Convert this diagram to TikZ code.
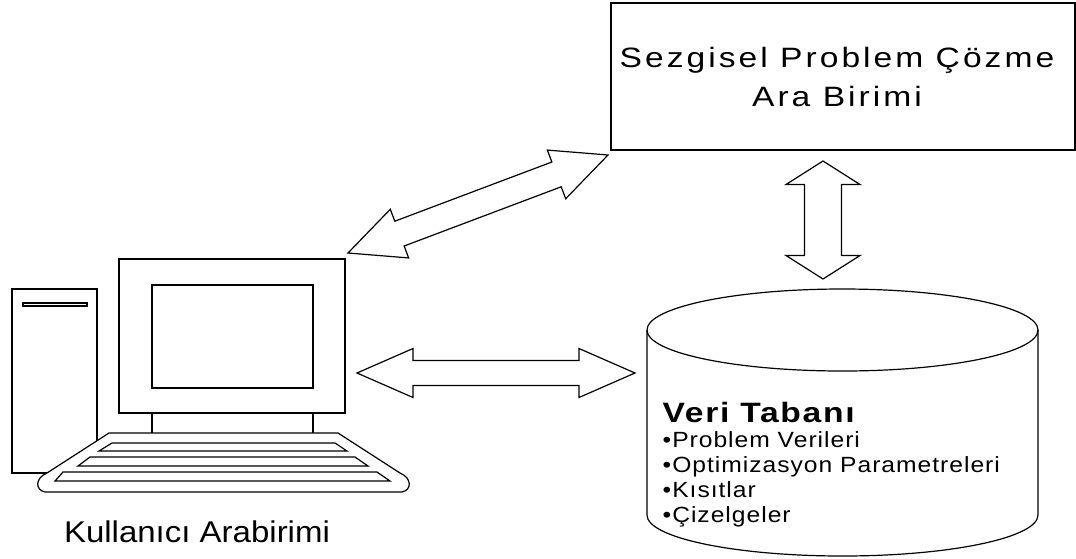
\documentclass[tikz,border=0pt]{standalone}
\usepackage{fontspec}
\setmainfont{Liberation Sans}
\usetikzlibrary{calc}

\tikzset{
  blockarrow/.style={draw, fill=white, line join=miter},
  txt/.style={inner sep=0pt, xscale=1.2, transform shape, font=\fontsize{28}{39}\selectfont\addfontfeature{LetterSpace=9}},
  item/.style={inner sep=0pt, anchor=base west, xscale=1.12, transform shape, font=\fontsize{22}{25}\selectfont\addfontfeature{LetterSpace=4}},
}

% double headed block arrow: tip, tip, shaft half width, head half width, head length
\newcommand{\dblarrow}[5]{%
  \draw[blockarrow] (#1)
    -- ($(#1)!#5!(#2)!#4!90:(#2)$) -- ($(#1)!#5!(#2)!#3!90:(#2)$)
    -- ($(#2)!#5!(#1)!#3!-90:(#1)$) -- ($(#2)!#5!(#1)!#4!-90:(#1)$)
    -- (#2)
    -- ($(#2)!#5!(#1)!#4!90:(#1)$) -- ($(#2)!#5!(#1)!#3!90:(#1)$)
    -- ($(#1)!#5!(#2)!#3!-90:(#2)$) -- ($(#1)!#5!(#2)!#4!-90:(#2)$)
    -- cycle;
}

\begin{document}
\begin{tikzpicture}[x=1pt, y=1pt, line width=1.2pt]

\useasboundingbox (0,0) rectangle (1076,-558);

% solver box
\node (rect) at (843,-76.5)[draw, minimum width=464pt, minimum height=147pt]{};
\node (recttext) at ([xshift=-6pt]rect.center)[txt, align=center]{Sezgisel Problem Çözme\\Ara Birimi};

% computer
\node (tower) at (54.5,-381)[draw, minimum width=85pt, minimum height=184pt]{};
\node (slot) at (55,-304.5)[draw, minimum width=64pt, minimum height=3pt, inner sep=0pt]{};
\node (monitor) at (232,-336)[draw, minimum width=226pt, minimum height=154pt]{};
\node (screen) at (232.5,-336.5)[draw, minimum width=161pt, minimum height=103pt]{};
\draw (152,-413) -- (152,-433);
\draw (313,-413) -- (313,-433);

\draw[fill=white] (109,-433) -- (338,-433) -- (400,-473)
  .. controls (412,-478) and (412,-490) .. (402,-492) -- (45,-492)
  .. controls (35,-490) and (35,-478) .. (47,-473) -- cycle;
\foreach \ya/\yb/\xa/\xb/\xc/\xd in {443/451/112/335/347/99, 457/466/90/355/368/78, 472/481/63/377/390/55}
{
\draw (\xa,-\ya) -- (\xb,-\ya) -- (\xc,-\yb) -- (\xd,-\yb) -- cycle;
}

\node (pclabel) at (197,-542)[anchor=base, inner sep=0pt, xscale=1.1, transform shape, font=\fontsize{30}{36}\selectfont]{Kullanıcı Arabirimi};

% database
\draw[fill=white] (647,-330) -- (647,-515) arc[start angle=180, end angle=360, x radius=195.5, y radius=41] -- (1038,-330);
\draw (842.5,-330) ellipse[x radius=195.5, y radius=41];

\node (vt) at (662,-422)[anchor=base west, inner sep=0pt, xscale=1.2, transform shape, font=\fontsize{28}{34}\selectfont\bfseries\addfontfeature{LetterSpace=5}]{Veri Tabanı};
\foreach \t [count=\i from 0] in {•Problem Verileri, •Optimizasyon Parametreleri, •Kısıtlar, •Çizelgeler}
{
\node (li\i) at (662,-447-25.3*\i)[item]{\t};
}

% block arrows
\coordinate (a1) at (348,-253);
\coordinate (b1) at (608,-155);
\coordinate (a2) at (357,-373);
\coordinate (b2) at (635,-373);
\coordinate (a3) at (823,-161);
\coordinate (b3) at (823,-279);

\dblarrow{a1}{b1}{13.25pt}{26pt}{55pt}
\dblarrow{a2}{b2}{12.5pt}{24.5pt}{56pt}
\dblarrow{a3}{b3}{18.5pt}{37pt}{23.5pt}

\end{tikzpicture}
\end{document}
